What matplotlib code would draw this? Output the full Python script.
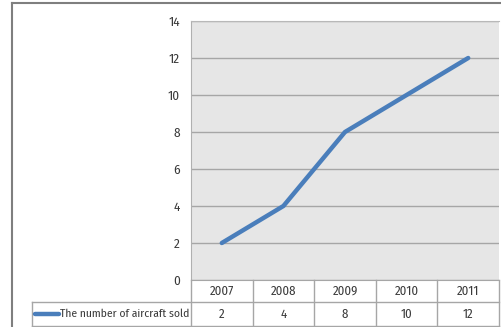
import matplotlib
matplotlib.use("Agg")
import matplotlib.pyplot as plt
from matplotlib import font_manager
from matplotlib.lines import Line2D

years = ["2007", "2008", "2009", "2010", "2011"]
sold = [2, 4, 8, 10, 12]
series_name = "The number of aircraft sold"
y_ticks = [0, 2, 4, 6, 8, 10, 12, 14]

# narrow humanist face, with fallbacks
installed = {f.name for f in font_manager.fontManager.ttflist}
for cand in ["Fira Sans Condensed", "Encode Sans Semi Condensed", "Barlow Semi Condensed",
             "Carlito", "DejaVu Sans"]:
    if cand in installed:
        face = cand
        break
plt.rcParams["font.family"] = [face, "DejaVu Sans"]
FS_TICK = 9.5
FS_CELL = 9.2
FS_KEY = 8.3
TXT = "#3a3a3a"

W, H = 501, 327
fig = plt.figure(figsize=(W / 100, H / 100), dpi=100)
fig.patch.set_facecolor("white")

def fx(px):
    return px / W

def fy(py):
    return 1 - py / H

# plot area
left, right, top, bottom = 191, 499, 21, 280
ax = fig.add_axes([fx(left), fy(bottom), fx(right - left), (bottom - top) / H])
ax.set_facecolor("#e6e6e6")
ax.set_xlim(-0.5, len(years) - 0.5)
ax.set_ylim(0, 14)
ax.set_yticks(y_ticks)
ax.set_yticklabels([str(t) for t in y_ticks])
ax.tick_params(axis="y", length=0, pad=8, labelsize=FS_TICK, labelcolor=TXT)
ax.set_xticks([])
ax.yaxis.grid(True, color="#a6a6a6", linewidth=1.0)
ax.set_axisbelow(True)
ax.spines["right"].set_visible(False)
ax.spines["top"].set_color("#b8b8b8")
ax.spines["left"].set_color("#b0b0b0")
ax.spines["bottom"].set_color("#a6a6a6")
ax.plot(range(len(years)), sold, color="#4a7ebb", linewidth=3.2,
        solid_capstyle="round", solid_joinstyle="round", zorder=3)

# data table beneath the axis
row1, row2, row_end = 280, 302, 326
tab_left = 32
col_w = (right - left) / len(years)
tc = "#a6a6a6"

def hline(y, x0, x1):
    fig.add_artist(Line2D([fx(x0), fx(x1)], [fy(y), fy(y)], color=tc, lw=1.0))

def vline(x, y0, y1):
    fig.add_artist(Line2D([fx(x), fx(x)], [fy(y0), fy(y1)], color=tc, lw=1.0))

hline(row2, tab_left, right)
hline(row_end, tab_left, right)
vline(tab_left, row2, row_end)
for i in range(len(years) + 1):
    vline(left + i * col_w, row1, row_end)

for i, (yr, v) in enumerate(zip(years, sold)):
    cx = left + (i + 0.5) * col_w
    fig.text(fx(cx), fy((row1 + row2) / 2), yr, ha="center", va="center",
             fontsize=FS_CELL, color=TXT)
    fig.text(fx(cx), fy((row2 + row_end) / 2), str(v), ha="center", va="center",
             fontsize=FS_CELL, color=TXT)

# legend key in the first table cell
ky = (row2 + row_end) / 2
fig.add_artist(Line2D([fx(35), fx(59)], [fy(ky), fy(ky)], color="#4a7ebb", lw=3.2,
                      solid_capstyle="round"))
fig.text(fx(60), fy(ky), series_name, ha="left", va="center",
         fontsize=FS_KEY, color=TXT)

# outer chart frame
fig.add_artist(Line2D([fx(12), fx(12)], [fy(3), 0], color="#7f7f7f", lw=1.5))
fig.add_artist(Line2D([fx(12), 1], [fy(3), fy(3)], color="#7f7f7f", lw=1.5))

fig.savefig("out.png", dpi=100, facecolor="white")
